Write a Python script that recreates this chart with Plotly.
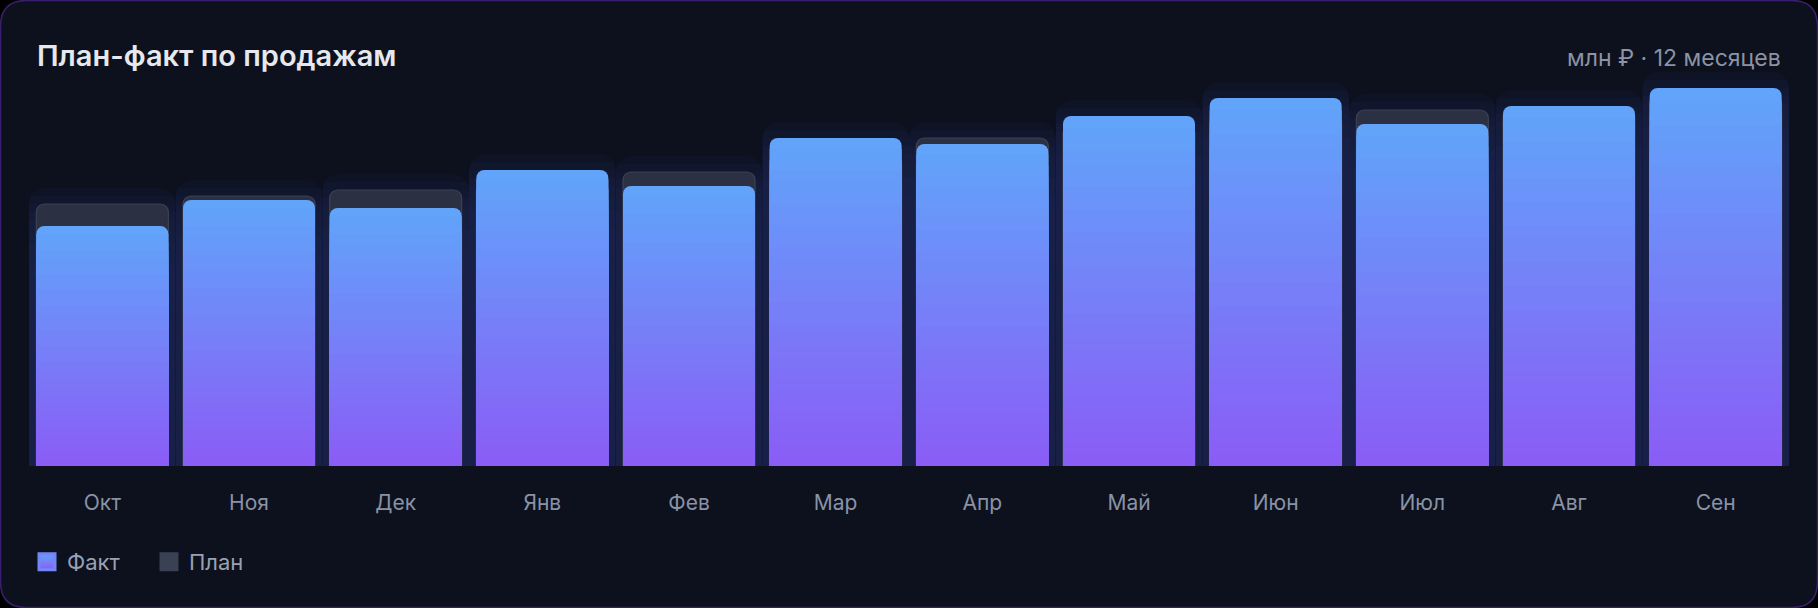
import plotly.graph_objects as go

# ---------------- data (млн ₽) ----------------
months = ["Окт", "Ноя", "Дек", "Янв", "Фев", "Мар", "Апр", "Май", "Июн", "Июл", "Авг", "Сен"]
fact = [120, 133, 129, 148, 140, 164, 161, 175, 184, 171, 180, 189]
plan = [131, 135, 138, 142, 147, 155, 164, 170, 176, 178, 178, 184]

title_text = "План-факт по продажам"
subtitle_text = "млн ₽ · 12 месяцев"

# ---------------- layout geometry ----------------
W, H = 1818, 608
ML, MR, MT, MB = 29, 29, 70, 142
PW, PH = W - ML - MR, H - MT - MB
Y_MAX = 198
RADIUS = 8


def px_x(px):
    return (px - ML) / PW


def px_y(py):
    return (H - MB - py) / PH


TOP_C = (96, 165, 250)     # #60a5fa
BOT_C = (139, 92, 246)     # #8b5cf6


def mix(t):
    r = [round(a + (b - a) * t) for a, b in zip(TOP_C, BOT_C)]
    return "rgb({},{},{})".format(*r)


FONT = "Inter, 'Noto Sans', sans-serif"
fig = go.Figure()

# soft glow behind bars (main y axis, drawn first)
peak = [max(f, p) for f, p in zip(fact, plan)]
for extra in [8, 4, 0, -4, -8, -14, -20, -30]:
    fig.add_bar(x=months, y=[v + extra for v in peak], width=1.0, yaxis="y",
                marker=dict(color="rgba(42,48,112,0.10)", line=dict(width=0),
                            cornerradius=16),
                showlegend=False, hoverinfo="skip")

# plan bars (own overlaying axis so they keep their rounded tops)
fig.add_bar(x=months, y=plan, width=0.9, name="План", yaxis="y2",
            marker=dict(color="#2b3143", line=dict(color="#3b4255", width=1.2),
                        cornerradius=RADIUS),
            showlegend=False, hoverinfo="skip")

# fact bars with vertical gradient (overlaid bands, on top)
N = 30
for k in range(N):
    frac = 1 - k / N
    fig.add_bar(x=months, y=[f * frac for f in fact], width=0.9, yaxis="y3",
                marker=dict(color=mix((k + 0.5) / N), line=dict(width=0),
                            cornerradius=RADIUS),
                showlegend=False, hoverinfo="skip")

# legend entries
fig.add_scatter(x=[None], y=[None], mode="markers", name="Факт", legendrank=1,
                marker=dict(symbol="square", size=16, color="#60a5fa",
                            gradient=dict(type="vertical", color="#8b5cf6"),
                            line=dict(width=3, color="#7486f7")))
fig.add_scatter(x=[None], y=[None], mode="markers", name="План", legendrank=2,
                marker=dict(symbol="square", size=16, color="#3a4153",
                            line=dict(width=3, color="#3a4153")))

# card background with rounded corners
R = 26
x0, x1 = px_x(0.5), px_x(W - 0.5)
y0, y1 = px_y(H - 0.5), px_y(0.5)
rx, ry = R / PW, R / PH
path = (f"M{x0 + rx},{y1} L{x1 - rx},{y1} Q{x1},{y1} {x1},{y1 - ry} "
        f"L{x1},{y0 + ry} Q{x1},{y0} {x1 - rx},{y0} "
        f"L{x0 + rx},{y0} Q{x0},{y0} {x0},{y0 + ry} "
        f"L{x0},{y1 - ry} Q{x0},{y1} {x0 + rx},{y1} Z")
fig.add_shape(type="path", path=path, xref="paper", yref="paper", layer="below",
              fillcolor="#0c111d", line=dict(color="#3a1f6e", width=1.5))

fig.add_annotation(text=subtitle_text, xref="paper", yref="paper",
                   x=px_x(1783), y=px_y(58), xanchor="right", yanchor="middle",
                   showarrow=False, font=dict(family=FONT, size=23, color="#8b93a5"))

hidden_y = dict(visible=False, range=[0, Y_MAX], fixedrange=True)
fig.update_layout(
    width=W, height=H,
    margin=dict(l=ML, r=MR, t=MT, b=MB, pad=0),
    paper_bgcolor="#000000", plot_bgcolor="rgba(0,0,0,0)",
    barmode="overlay", bargap=0.1,
    title=dict(text=title_text, xref="container", yref="container",
               x=37 / W, xanchor="left", y=1 - 56 / H, yanchor="middle",
               font=dict(family=FONT, size=29, color="#e6e8ee", weight=600)),
    xaxis=dict(showgrid=False, zeroline=False, showline=False, ticks="",
               tickfont=dict(family=FONT, size=21, color="#8a92a6"),
               ticklabelstandoff=22, fixedrange=True),
    yaxis=hidden_y,
    yaxis2=dict(hidden_y, overlaying="y"),
    yaxis3=dict(hidden_y, overlaying="y"),
    legend=dict(orientation="h", x=px_x(27), xanchor="left", y=px_y(562),
                yanchor="middle", font=dict(family=FONT, size=22, color="#9aa1b2"),
                bgcolor="rgba(0,0,0,0)", itemsizing="trace", entrywidth=77),
    hovermode=False,
    font=dict(family=FONT),
)

fig.write_html("out.html", config={"displayModeBar": False},
               post_script="document.body.style.margin='0';document.body.style.overflow='hidden';")
